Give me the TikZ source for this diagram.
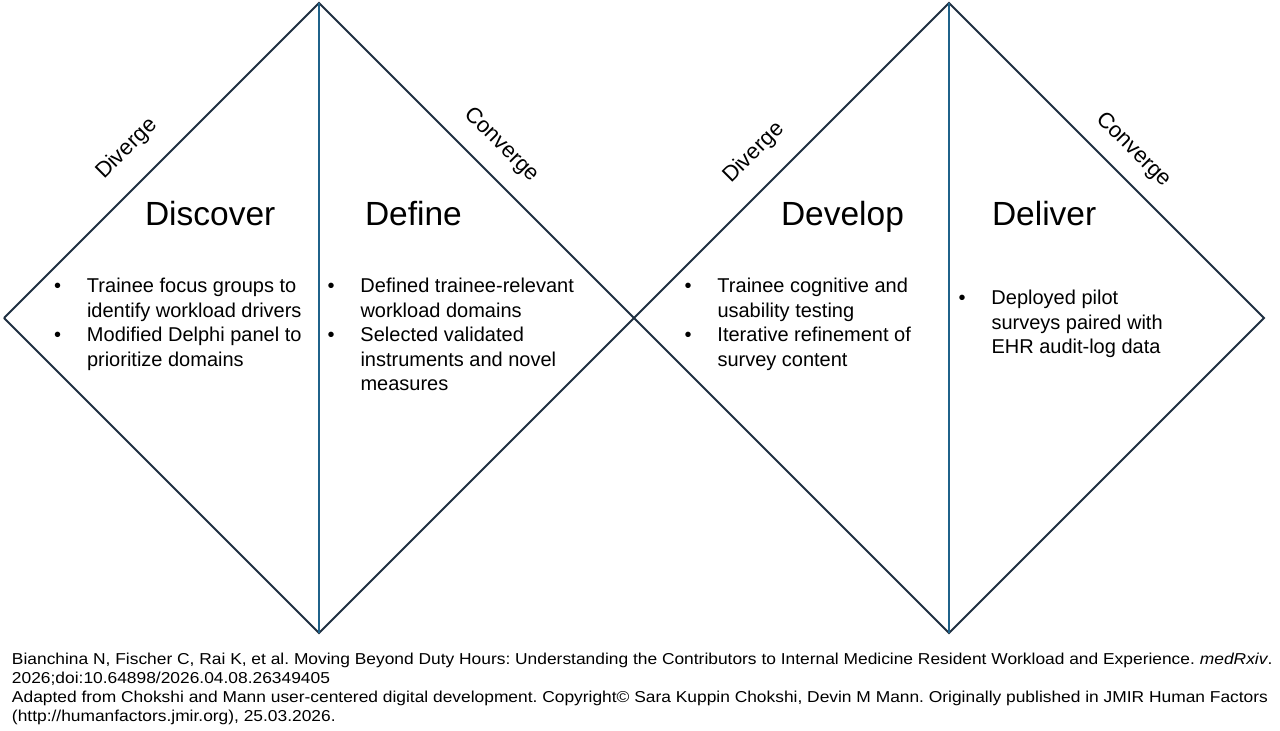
\documentclass[tikz,border=0pt]{standalone}
\usepackage{fontspec}
\setmainfont{Liberation Sans}
\newfontfamily\sourcefont[FakeStretch=1.1]{Liberation Sans}
\frenchspacing
\definecolor{outline}{RGB}{31,48,66}
\definecolor{midline}{RGB}{31,98,138}
\tikzstyle{every node}=[inner sep=0pt, outer sep=0pt, text=black]
\tikzstyle{phase}=[anchor=base west, font=\fontsize{33.5}{40}\selectfont]
\tikzstyle{side}=[font=\fontsize{22}{26}\selectfont]
\tikzstyle{points}=[anchor=base west, font=\fontsize{20}{24.5}\selectfont]
\tikzstyle{source}=[anchor=base west, font=\sourcefont\fontsize{15.8}{19}\selectfont]
\newcommand{\pointlist}[1]{\begin{tabular}[t]{@{}p{33pt}@{}l@{}}#1\end{tabular}}

\begin{document}
\begin{tikzpicture}[x=1pt, y=1pt, line width=2pt]
	\fill[white] (0,0) rectangle (1280,731);
	\useasboundingbox (0,0) rectangle (1280,731);
	% double diamond
	\draw[outline] (4,413) coordinate (l1) --
		 ++(45:445.5) coordinate (t1) --
		 ++(-45:445.5) coordinate (m) --
		 ++(45:445.5) coordinate (t2) --
		 ++(-45:445.5) coordinate (r2) --
		 ++(-135:445.5) coordinate (b2) -- (m) --
		 ++(-135:445.5) coordinate (b1) -- (l1);
	\draw[midline] (t1) -- (b1) (t2) -- (b2);
	% phases
	\node[phase] (discover) at (145,505) {Discover};
	\node[phase] (define) at (365,505) {Define};
	\node[phase] (develop) at (781,505) {Develop};
	\node[phase] (deliver) at (992,505) {Deliver};
	% diverge / converge
	\node[side, rotate=45] (div1) at (127,582) {Diverge};
	\node[side, rotate=-45] (conv1) at (501,586) {Converge};
	\node[side, rotate=45] (div2) at (754,578) {Diverge};
	\node[side, rotate=-45] (conv2) at (1133,581) {Converge};
	% activities
	\node[points] (list1) at (54,438) {\pointlist{
		\textbullet & Trainee focus groups to\\
		 & identify workload drivers\\
		\textbullet & Modified Delphi panel to\\
		 & prioritize domains}};
	\node[points] (list2) at (327.5,438) {\pointlist{
		\textbullet & Defined trainee-relevant\\
		 & workload domains\\
		\textbullet & Selected validated\\
		 & instruments and novel\\
		 & measures}};
	\node[points] (list3) at (684.5,438) {\pointlist{
		\textbullet & Trainee cognitive and\\
		 & usability testing\\
		\textbullet & Iterative refinement of\\
		 & survey content}};
	\node[points] (list4) at (958.5,426) {\pointlist{
		\textbullet & Deployed pilot\\
		 & surveys paired with\\
		 & EHR audit-log data}};
	% citation
	\node[source] (cite) at (12,66.3) {\begin{tabular}[t]{@{}l@{}}
		Bianchina N, Fischer C, Rai K, et al. Moving Beyond Duty Hours: Understanding the Contributors to Internal Medicine Resident Workload and Experience. \textit{medRxiv}.\\
		2026;doi:10.64898/2026.04.08.26349405\\
		Adapted from Chokshi and Mann user-centered digital development. Copyright\textcopyright{} Sara Kuppin Chokshi, Devin M Mann. Originally published in JMIR Human Factors\\
		(http://humanfactors.jmir.org), 25.03.2026.
	\end{tabular}};
\end{tikzpicture}
\end{document}
